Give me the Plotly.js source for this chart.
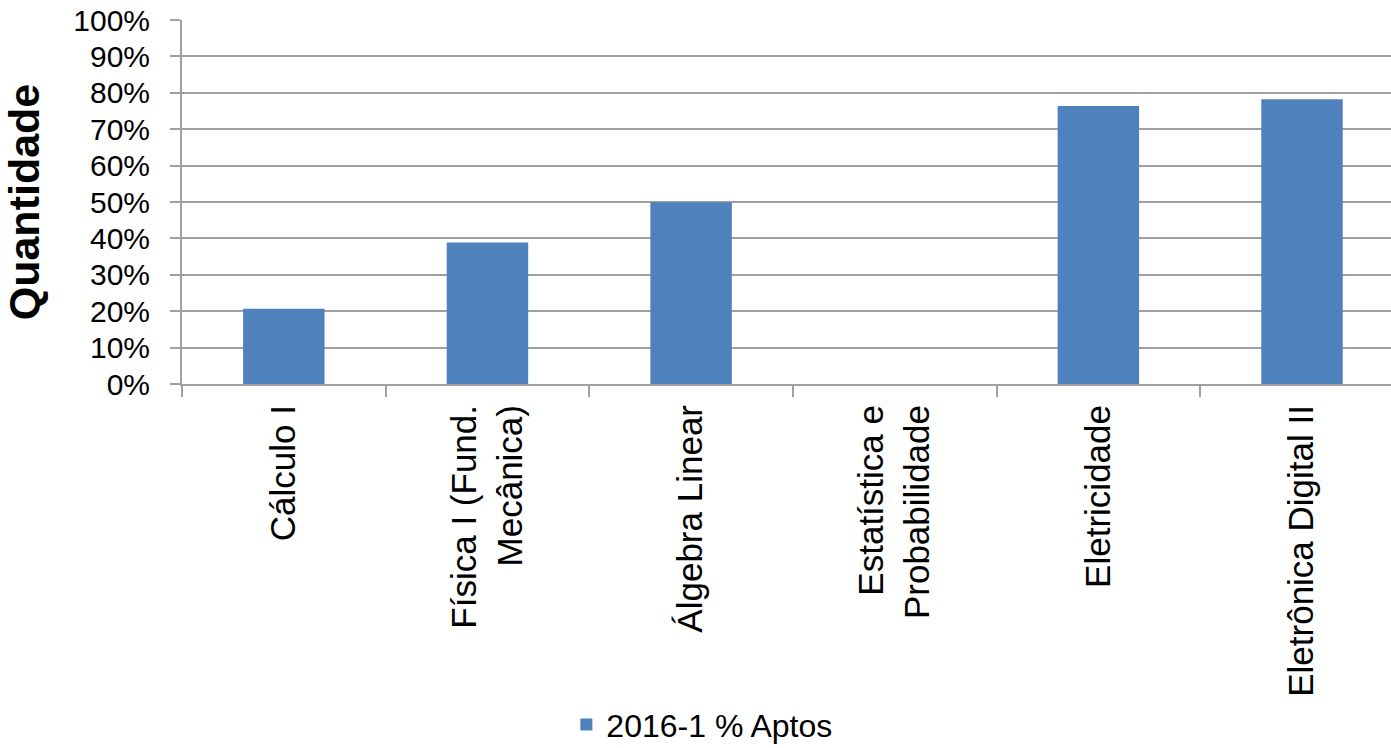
<!DOCTYPE html>
<html>
<head>
<meta charset="utf-8">
<script src="https://cdn.plot.ly/plotly-3.0.1.min.js"></script>
<style>html,body{margin:0;padding:0;background:#fff;}#chart{width:1391px;height:748px;}</style>
</head>
<body>
<div id="chart"></div>
<script>
const categories = ["Cálculo I", "Física I (Fund.<br>Mecânica)", "Álgebra Linear", "Estatística e<br>Probabilidade", "Eletricidade", "Eletrônica Digital II"];
const aptos = [0.207, 0.389, 0.499, 0, 0.764, 0.782];
const seriesName = "2016-1 % Aptos";
const yTickVals = [0, 0.1, 0.2, 0.3, 0.4, 0.5, 0.6, 0.7, 0.8, 0.9, 1.0];
const yTickText = ["0%", "10%", "20%", "30%", "40%", "50%", "60%", "70%", "80%", "90%", "100%"];

const trace = {
  type: "bar",
  x: categories,
  y: aptos,
  name: seriesName,
  marker: {color: "#4F81BD"},
  showlegend: true,
  hoverinfo: "none"
};

const layout = {
  width: 1391,
  height: 748,
  margin: {l: 182, r: 0, t: 20, b: 364, autoexpand: false},
  paper_bgcolor: "#ffffff",
  plot_bgcolor: "#ffffff",
  bargap: 0.6,
  font: {family: "Liberation Sans, Arial, sans-serif", color: "#000000"},
  xaxis: {
    type: "category",
    range: [-0.5, 5.437],
    automargin: false,
    tickson: "boundaries",
    ticks: "outside",
    ticklen: 11,
    tickwidth: 2,
    tickcolor: "#A0A0A0",
    showgrid: false,
    showline: true,
    linecolor: "#A0A0A0",
    linewidth: 2,
    tickangle: -90,
    ticklabelstandoff: 5,
    tickfont: {size: 35, family: "Liberation Sans, Arial, sans-serif"},
    zeroline: false,
    fixedrange: true
  },
  yaxis: {
    range: [0, 1],
    automargin: false,
    tickvals: yTickVals,
    ticktext: yTickText,
    ticks: "outside",
    ticklen: 10,
    tickwidth: 2,
    tickcolor: "#A0A0A0",
    showgrid: true,
    gridcolor: "#A0A0A0",
    gridwidth: 2,
    showline: true,
    linecolor: "#A0A0A0",
    linewidth: 2,
    zeroline: false,
    tickfont: {size: 30, family: "Liberation Sans, Arial, sans-serif"},
    ticklabelstandoff: 14,
    title: {text: "<b>Quantidade</b>", font: {size: 43, family: "Liberation Sans, Arial, sans-serif"}, standoff: 20},
    fixedrange: true
  },
  legend: {
    orientation: "h",
    x: 0.43,
    xref: "paper",
    xanchor: "center",
    y: -0.936,
    yanchor: "middle",
    font: {size: 32, family: "Liberation Sans, Arial, sans-serif"},
    itemwidth: 30
  }
};

Plotly.newPlot("chart", [trace], layout, {displayModeBar: false, staticPlot: true});
</script>
</body>
</html>
